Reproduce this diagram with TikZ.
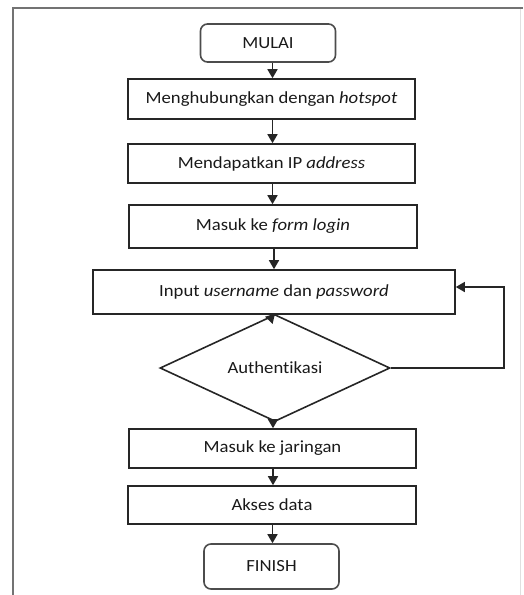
\documentclass[tikz,border=0pt]{standalone}
\usepackage{fontspec}
\setmainfont[FakeStretch=1.1,RawFeature={-liga;-clig;-dlig}]{Carlito}
\usetikzlibrary{shapes.geometric,arrows.meta,calc}
\tikzset{
  every node/.style={font=\fontsize{17}{20}\selectfont, text=black!90},
  proc/.style={draw=black!85, line width=1.6pt, rectangle, inner sep=0pt, minimum height=#1},
  proc/.default=40pt,
  term/.style={draw=black!70, line width=1.6pt, rounded corners=7pt, inner sep=0pt, minimum width=135pt},
  decis/.style={draw=black!85, line width=1.6pt, diamond, inner sep=0pt, minimum width=230pt, minimum height=65pt},
  arr/.style={draw=black!85, line width=1.6pt, -{Triangle[length=9pt,width=10pt]}},
  frame/.style={draw=black!55, line width=2pt}
}
\begin{document}
\begin{tikzpicture}[x=1pt,y=-1pt]
\useasboundingbox (0,0) rectangle (523,595);
\draw[frame] (12.5,595) -- (12.5,7.5) -- (523,7.5);
\draw[draw=black!12, line width=1pt] (520,9) -- (520,595);

\node[term, minimum height=38pt] (mulai) at (268,43) {MULAI};
\node[proc=40pt, minimum width=287pt] (b1) at (271.5,99) {Menghubungkan dengan \textit{hotspot}};
\node[proc=39pt, minimum width=287pt] (b2) at (271.5,163.5) {Mendapatkan IP \textit{address}};
\node[proc=43pt, minimum width=288pt] (b3) at (273,226.5) {Masuk ke \textit{form login}};
\node[proc=44pt, minimum width=362pt] (b4) at (274,292) {Input \textit{username} dan \textit{password}};
\node[decis] (auth) at (275,368) {Authent\kern0pt ikasi};
\node[proc=39pt, minimum width=287pt] (b5) at (272.5,448.5) {Masuk ke jaringan};
\node[proc=38pt, minimum width=288pt] (b6) at (272,505) {Akses data};
\node[term, minimum height=45pt] (fin) at (271.5,566.5) {FINISH};

\coordinate (loop) at (504,287);

\draw[arr] (mulai.south -| 272.5,0) -- (272.5,0 |- b1.north);
\draw[arr] (b1.south -| 272.5,0) -- (272.5,0 |- b2.north);
\draw[arr] (b2.south -| 272.5,0) -- (272.5,0 |- b3.north);
\draw[arr] (b3.south -| 274,0) -- (274,0 |- b4.north);
\draw[arr] (b4.south -| 274,0) -- (auth.north);
\draw[arr] (auth.south -| 273,0) -- (273,0 |- b5.north);
\draw[arr] (b5.south -| 273,0) -- (273,0 |- b6.north);
\draw[arr] (b6.south -| 272.5,0) -- (272.5,0 |- fin.north);
\draw[arr] (auth.east) -| (loop) -- (loop -| b4.east);
\end{tikzpicture}
\end{document}
